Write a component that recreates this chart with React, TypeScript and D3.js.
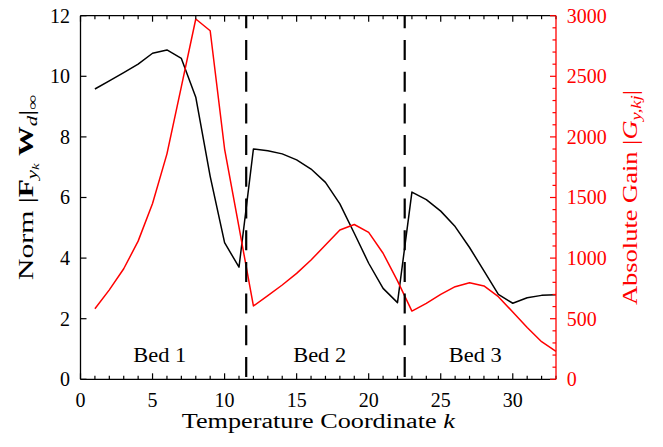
import React from "react";
import * as d3 from "d3";

const kValues = [1, 2, 3, 4, 5, 6, 7, 8, 9, 10, 11, 12, 13, 14, 15, 16, 17, 18, 19, 20, 21, 22, 23, 24, 25, 26, 27, 28, 29, 30, 31, 32, 33];
const normValues = [9.58, 9.85, 10.12, 10.4, 10.76, 10.87, 10.59, 9.31, 6.7, 4.51, 3.7, 7.6, 7.54, 7.44, 7.24, 6.94, 6.5, 5.79, 4.82, 3.83, 3.0, 2.53, 6.18, 5.93, 5.55, 5.04, 4.35, 3.58, 2.8, 2.51, 2.69, 2.77, 2.79];
const gainValues = [582, 738, 912, 1140, 1450, 1860, 2415, 2973, 2876, 1900, 1255, 605, 690, 778, 874, 984, 1108, 1232, 1277, 1212, 1040, 812, 563, 627, 700, 764, 797, 770, 682, 555, 428, 310, 230];
const bedBoundaries = [11.5, 22.5];
const bedLabels = ["Bed 1", "Bed 2", "Bed 3"];
const bedLabelK = [5.5, 16.6, 27.4];
const xTickLabels = [0, 5, 10, 15, 20, 25, 30];
const leftTickLabels = [0, 2, 4, 6, 8, 10, 12];
const rightTickLabels = [0, 500, 1000, 1500, 2000, 2500, 3000];

const FONT = "Liberation Serif, Times New Roman, serif";
const RED = "#ff0000";
const tstyle = { fontFamily: FONT };

export default function App() {
  const left = 80.5, right = 556, top = 15.7, bottom = 379.3;
  const x = d3.scaleLinear().domain([0, 33]).range([left, right]);
  const yL = d3.scaleLinear().domain([0, 12]).range([bottom, top]);
  const yR = d3.scaleLinear().domain([0, 3000]).range([bottom, top]);

  const normLine = d3.line<number>().x((_, i) => x(kValues[i])).y((d) => yL(d));
  const gainLine = d3.line<number>().x((_, i) => x(kValues[i])).y((d) => yR(d));

  const xMinor = x.ticks(33).filter((t) => !xTickLabels.includes(t));
  const rMinor = yR.ticks(30).filter((t) => !rightTickLabels.includes(t));

  return (
    <svg width={663} height={447} style={{ position: "absolute", left: 0, top: 0, background: "#fff", fontFamily: FONT }}>
      <rect x={0} y={0} width={663} height={447} fill="#fff" />
      {/* data lines */}
      <path d={normLine(normValues) || ""} fill="none" stroke="#000" strokeWidth={1.5} strokeLinejoin="round" />
      <path d={gainLine(gainValues) || ""} fill="none" stroke={RED} strokeWidth={1.5} strokeLinejoin="round" />
      {/* bed boundaries */}
      {bedBoundaries.map((b) => (
        <line key={b} x1={x(b)} x2={x(b)} y1={top} y2={bottom} stroke="#000" strokeWidth={2.2} strokeDasharray="20 11.7" strokeDashoffset={7.4} />
      ))}
      {bedLabels.map((t, i) => (
        <text key={t} style={tstyle} x={x(bedLabelK[i])} y={361.7} fontSize={20} textAnchor="middle" textLength={53} lengthAdjust="spacingAndGlyphs">{t}</text>
      ))}
      {/* bottom & top axes */}
      <line x1={left} x2={right} y1={bottom} y2={bottom} stroke="#000" strokeWidth={1.3} />
      <line x1={left} x2={right} y1={top} y2={top} stroke="#000" strokeWidth={1.3} />
      {xTickLabels.map((t) => (
        <g key={"xt" + t}>
          <line x1={x(t)} x2={x(t)} y1={bottom} y2={bottom - 6} stroke="#000" strokeWidth={1.2} />
          <line x1={x(t)} x2={x(t)} y1={top} y2={top + 6} stroke="#000" strokeWidth={1.2} />
          <text style={tstyle} x={x(t)} y={406.7} fontSize={20} textAnchor="middle">{t}</text>
        </g>
      ))}
      {xMinor.map((t) => (
        <g key={"xm" + t}>
          <line x1={x(t)} x2={x(t)} y1={bottom} y2={bottom - 3.5} stroke="#000" strokeWidth={1.2} />
          <line x1={x(t)} x2={x(t)} y1={top} y2={top + 3.5} stroke="#000" strokeWidth={1.2} />
        </g>
      ))}
      {/* left axis */}
      <line x1={left} x2={left} y1={top} y2={bottom} stroke="#000" strokeWidth={1.3} />
      {leftTickLabels.map((t) => (
        <g key={"lt" + t}>
          <line x1={left} x2={left + 6} y1={yL(t)} y2={yL(t)} stroke="#000" strokeWidth={1.2} />
          <text style={tstyle} x={70} y={yL(t) + 6.8} fontSize={20} textAnchor="end">{t}</text>
        </g>
      ))}
      {/* right axis */}
      <line x1={right} x2={right} y1={top} y2={bottom} stroke={RED} strokeWidth={1.3} />
      {rightTickLabels.map((t) => (
        <g key={"rt" + t}>
          <line x1={right} x2={right - 6} y1={yR(t)} y2={yR(t)} stroke={RED} strokeWidth={1.2} />
          <text style={tstyle} x={566.7} y={yR(t) + 6.8} fontSize={20} fill={RED} textAnchor="start">{t}</text>
        </g>
      ))}
      {rMinor.map((t) => (
        <line key={"rm" + t} x1={right} x2={right - 3.5} y1={yR(t)} y2={yR(t)} stroke={RED} strokeWidth={1.2} />
      ))}
      {/* axis titles */}
      <text style={tstyle} x={318.3} y={428.3} fontSize={20} textAnchor="middle" textLength={273} lengthAdjust="spacingAndGlyphs">
        Temperature Coordinate <tspan fontStyle="italic">k</tspan>
      </text>
      <text style={tstyle} transform="translate(33,187.5) rotate(-90)" fontSize={20} textAnchor="middle" textLength={185} lengthAdjust="spacingAndGlyphs">
        <tspan>Norm |</tspan>
        <tspan fontWeight="bold">F</tspan>
        <tspan fontStyle="italic" fontSize={14} dy={4}>y</tspan>
        <tspan fontStyle="italic" fontSize={10} dy={2}>k</tspan>
        <tspan dy={-6}>{"\u00a0"}</tspan>
        <tspan fontWeight="bold">W</tspan>
        <tspan fontStyle="italic" fontSize={14} dy={4}>d</tspan>
        <tspan dy={-4}>|</tspan>
        <tspan fontSize={14} dy={4}>∞</tspan>
      </text>
      <text style={tstyle} transform="translate(636.7,197.5) rotate(-90)" fontSize={20} textAnchor="middle" fill={RED} textLength={215} lengthAdjust="spacingAndGlyphs">
        <tspan>Absolute Gain |</tspan>
        <tspan fontStyle="italic">G</tspan>
        <tspan fontStyle="italic" fontSize={14} dy={4}>y,kj</tspan>
        <tspan dy={-4}>|</tspan>
      </text>
    </svg>
  );
}
